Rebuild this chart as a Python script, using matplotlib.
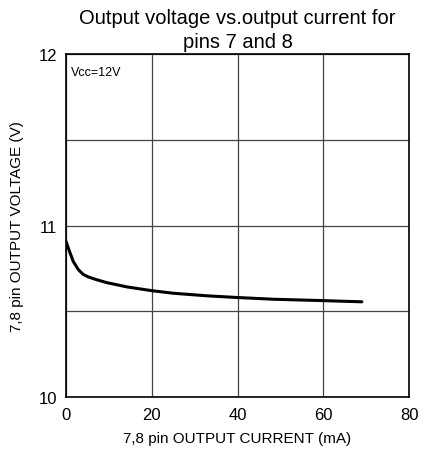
import matplotlib
matplotlib.use("Agg")
import matplotlib.pyplot as plt

current_ma = [0, 0.8, 1.7, 2.9, 4.0, 5.2, 7.0, 9.5, 14.2, 20, 25, 32.9, 40, 48.4, 60, 69]
voltage_v = [10.907, 10.85, 10.79, 10.742, 10.715, 10.70, 10.685, 10.667, 10.642, 10.62, 10.605, 10.59, 10.58, 10.57, 10.562, 10.555]

xticks = [0, 20, 40, 60, 80]
yticks = [10, 11, 12]

plt.rcParams['font.family'] = ['Liberation Sans', 'DejaVu Sans']

fig = plt.figure(figsize=(4.24, 4.56), dpi=100)
ax = fig.add_axes([66/424, 1-398/456, (409-66)/424, (398-55)/456])

ax.plot(current_ma, voltage_v, color='black', lw=2.2, solid_capstyle='round')
ax.set_xlim(0, 80)
ax.set_ylim(10, 12)
ax.set_xticks(xticks)
ax.set_yticks(yticks)
ax.set_yticks([10.5, 11.5], minor=True)
ax.grid(True, which='both', color='#444444', lw=0.9)
ax.tick_params(which='both', length=0, labelsize=12)
ax.tick_params(axis='x', pad=7)
ax.tick_params(axis='y', pad=6.5)
for s in ax.spines.values():
    s.set_linewidth(1.2)
    s.set_color('black')

ax.text(1.1, 11.895, 'Vcc=12V', fontsize=9, va='center', ha='left')
ax.set_title('Output voltage vs.output current for\npins 7 and 8', fontsize=14.5, pad=5, linespacing=1.35)
ax.set_xlabel('7,8 pin OUTPUT CURRENT (mA)', fontsize=11, labelpad=7)
ax.set_ylabel('7,8 pin OUTPUT VOLTAGE (V)', fontsize=11, labelpad=10)

fig.savefig('out.png', dpi=100)
